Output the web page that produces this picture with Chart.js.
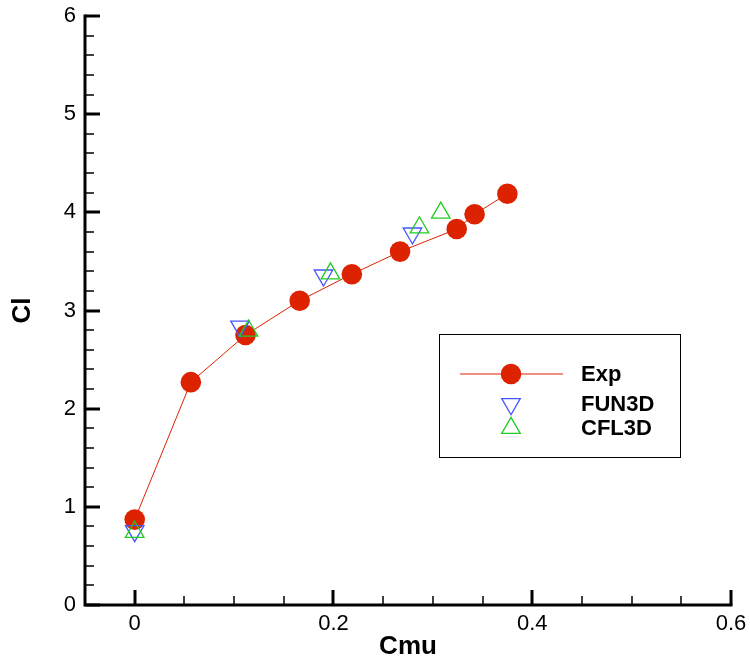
<!DOCTYPE html>
<html>
<head>
<meta charset="utf-8">
<script src="https://cdn.jsdelivr.net/npm/chart.js@4"></script>
<style>
  html, body { margin: 0; padding: 0; background: #fff; }
  #wrap { position: relative; width: 750px; height: 665px; }
</style>
</head>
<body>
<div id="wrap"><canvas id="cl-chart" width="750" height="665"></canvas></div>
<script>
// ---- data ----
const cmuExp = [0, 0.0565, 0.1115, 0.166, 0.2185, 0.267, 0.324, 0.342, 0.375]
const clExp  = [0.87, 2.27, 2.75, 3.10, 3.37, 3.60, 3.83, 3.98, 4.19]

const cmuFun3d = [0, 0.106, 0.190, 0.2795]
const clFun3d  = [0.754, 2.838, 3.358, 3.786]

const cmuCfl3d = [0, 0.1145, 0.197, 0.2865, 0.308]
const clCfl3d  = [0.744, 2.794, 3.376, 3.846, 3.995]

const xMajorTicks = [0, 0.2, 0.4, 0.6]
const yMajorTicks = [0, 1, 2, 3, 4, 5, 6]

// ---- styles ----
const RED = '#dd2200'
const BLUE = '#4455ff'
const GREEN = '#22cc22'
const FONT = "'Liberation Sans', Arial, Helvetica, sans-serif"

const toXY = (xs, ys) => xs.map((x, i) => ({ x, y: ys[i] }))
const isMajor = (v, list) => list.some(m => Math.abs(m - v) < 1e-6)

// axes drawn by hand: tecplot style, ticks pointing into the plot
const axesPlugin = {
  id: 'axes',
  afterDatasetsDraw(chart) {
    const { ctx, chartArea: a, scales: { x, y } } = chart
    ctx.save()
    ctx.strokeStyle = '#000'
    ctx.lineCap = 'butt'

    x.ticks.forEach(t => {
      const px = Math.round(x.getPixelForValue(t.value))
      const major = isMajor(t.value, xMajorTicks)
      ctx.lineWidth = major ? 3 : 1.5
      ctx.beginPath()
      ctx.moveTo(px, a.bottom)
      ctx.lineTo(px, a.bottom - (major ? 15 : 9))
      ctx.stroke()
    })
    y.ticks.forEach(t => {
      const py = Math.round(y.getPixelForValue(t.value))
      const major = isMajor(t.value, yMajorTicks)
      ctx.lineWidth = major ? 3 : 1.5
      ctx.beginPath()
      ctx.moveTo(a.left, py)
      ctx.lineTo(a.left + (major ? 15 : 9), py)
      ctx.stroke()
    })

    ctx.lineWidth = 3
    ctx.beginPath()
    ctx.moveTo(a.left, a.top - 1.5)
    ctx.lineTo(a.left, a.bottom)
    ctx.lineTo(a.right + 1.5, a.bottom)
    ctx.stroke()
    ctx.restore()
  }
}

// boxed legend inside the plot
const legendBox = {
  id: 'legendBox',
  afterDraw(chart) {
    const { ctx } = chart
    const box = { left: 439.5, top: 334.5, w: 241, h: 123 }
    ctx.save()
    ctx.fillStyle = '#fff'
    ctx.fillRect(box.left, box.top, box.w, box.h)
    ctx.strokeStyle = '#000'
    ctx.lineWidth = 1
    ctx.strokeRect(box.left, box.top, box.w, box.h)

    const rows = [374, 404, 428]
    const symX = 511
    chart.data.datasets.forEach((ds, i) => {
      const yy = rows[i]
      if (ds.showLine) {
        ctx.strokeStyle = ds.borderColor
        ctx.lineWidth = 1
        ctx.beginPath()
        ctx.moveTo(460, yy)
        ctx.lineTo(563, yy)
        ctx.stroke()
      }
      ctx.fillStyle = ds.pointBackgroundColor
      ctx.strokeStyle = ds.pointBorderColor
      ctx.lineWidth = ds.pointBorderWidth
      Chart.helpers.drawPoint(ctx, {
        pointStyle: ds.pointStyle,
        radius: ds.pointRadius,
        rotation: ds.rotation || 0,
        borderWidth: ds.pointBorderWidth
      }, symX, yy)

      ctx.fillStyle = '#000'
      ctx.font = 'bold 22px ' + FONT
      ctx.textAlign = 'left'
      ctx.textBaseline = 'middle'
      ctx.fillText(ds.label, 581, yy + 1)
    })
    ctx.restore()
  }
}

const ctx = document.getElementById('cl-chart')
new Chart(ctx, {
  type: 'scatter',
  data: {
    datasets: [
      {
        label: 'Exp',
        data: toXY(cmuExp, clExp),
        showLine: true,
        borderColor: RED,
        borderWidth: 1,
        pointStyle: 'circle',
        pointRadius: 10.3,
        pointBackgroundColor: RED,
        pointBorderColor: RED,
        pointBorderWidth: 0,
        order: 2
      },
      {
        label: 'FUN3D',
        data: toXY(cmuFun3d, clFun3d),
        showLine: false,
        pointStyle: 'triangle',
        rotation: 180,
        pointRadius: 10.7,
        pointBackgroundColor: 'rgba(0,0,0,0)',
        pointBorderColor: BLUE,
        pointBorderWidth: 1.3,
        order: 1
      },
      {
        label: 'CFL3D',
        data: toXY(cmuCfl3d, clCfl3d),
        showLine: false,
        pointStyle: 'triangle',
        pointRadius: 10.7,
        pointBackgroundColor: 'rgba(0,0,0,0)',
        pointBorderColor: GREEN,
        pointBorderWidth: 1.3,
        order: 0
      }
    ]
  },
  plugins: [axesPlugin, legendBox],
  options: {
    responsive: false,
    animation: false,
    clip: false,
    layout: { padding: { top: 16, right: 19, left: 0, bottom: 0 } },
    plugins: {
      legend: { display: false },
      tooltip: { enabled: false }
    },
    scales: {
      x: {
        type: 'linear',
        min: -0.05,
        max: 0.6,
        grid: { display: false, drawTicks: false },
        border: { display: false },
        ticks: {
          stepSize: 0.05,
          padding: 6,
          autoSkip: false,
          maxRotation: 0,
          color: '#000',
          font: { family: FONT, size: 22 },
          callback: v => isMajor(v, xMajorTicks) ? String(Math.round(v * 10) / 10) : ''
        },
        title: {
          display: true,
          text: 'Cmu',
          color: '#000',
          font: { family: FONT, size: 26, weight: 'bold' },
          padding: { top: 0, bottom: 3 }
        },
        afterFit(scale) {
          scale.height = 60
          scale.paddingLeft = 0
          scale.paddingRight = 0
        }
      },
      y: {
        type: 'linear',
        min: 0,
        max: 6,
        grid: { display: false, drawTicks: false },
        border: { display: false },
        ticks: {
          stepSize: 0.2,
          padding: 9,
          autoSkip: false,
          color: '#000',
          font: { family: FONT, size: 22 },
          callback: v => isMajor(v, yMajorTicks) ? String(Math.round(v)) : ''
        },
        title: {
          display: true,
          text: 'Cl',
          color: '#000',
          font: { family: FONT, size: 26, weight: 'bold' },
          padding: { top: 7, bottom: 0 }
        },
        afterFit(scale) {
          scale.width = 85
          scale.paddingTop = 0
          scale.paddingBottom = 0
        }
      }
    }
  }
})
</script>
</body>
</html>
